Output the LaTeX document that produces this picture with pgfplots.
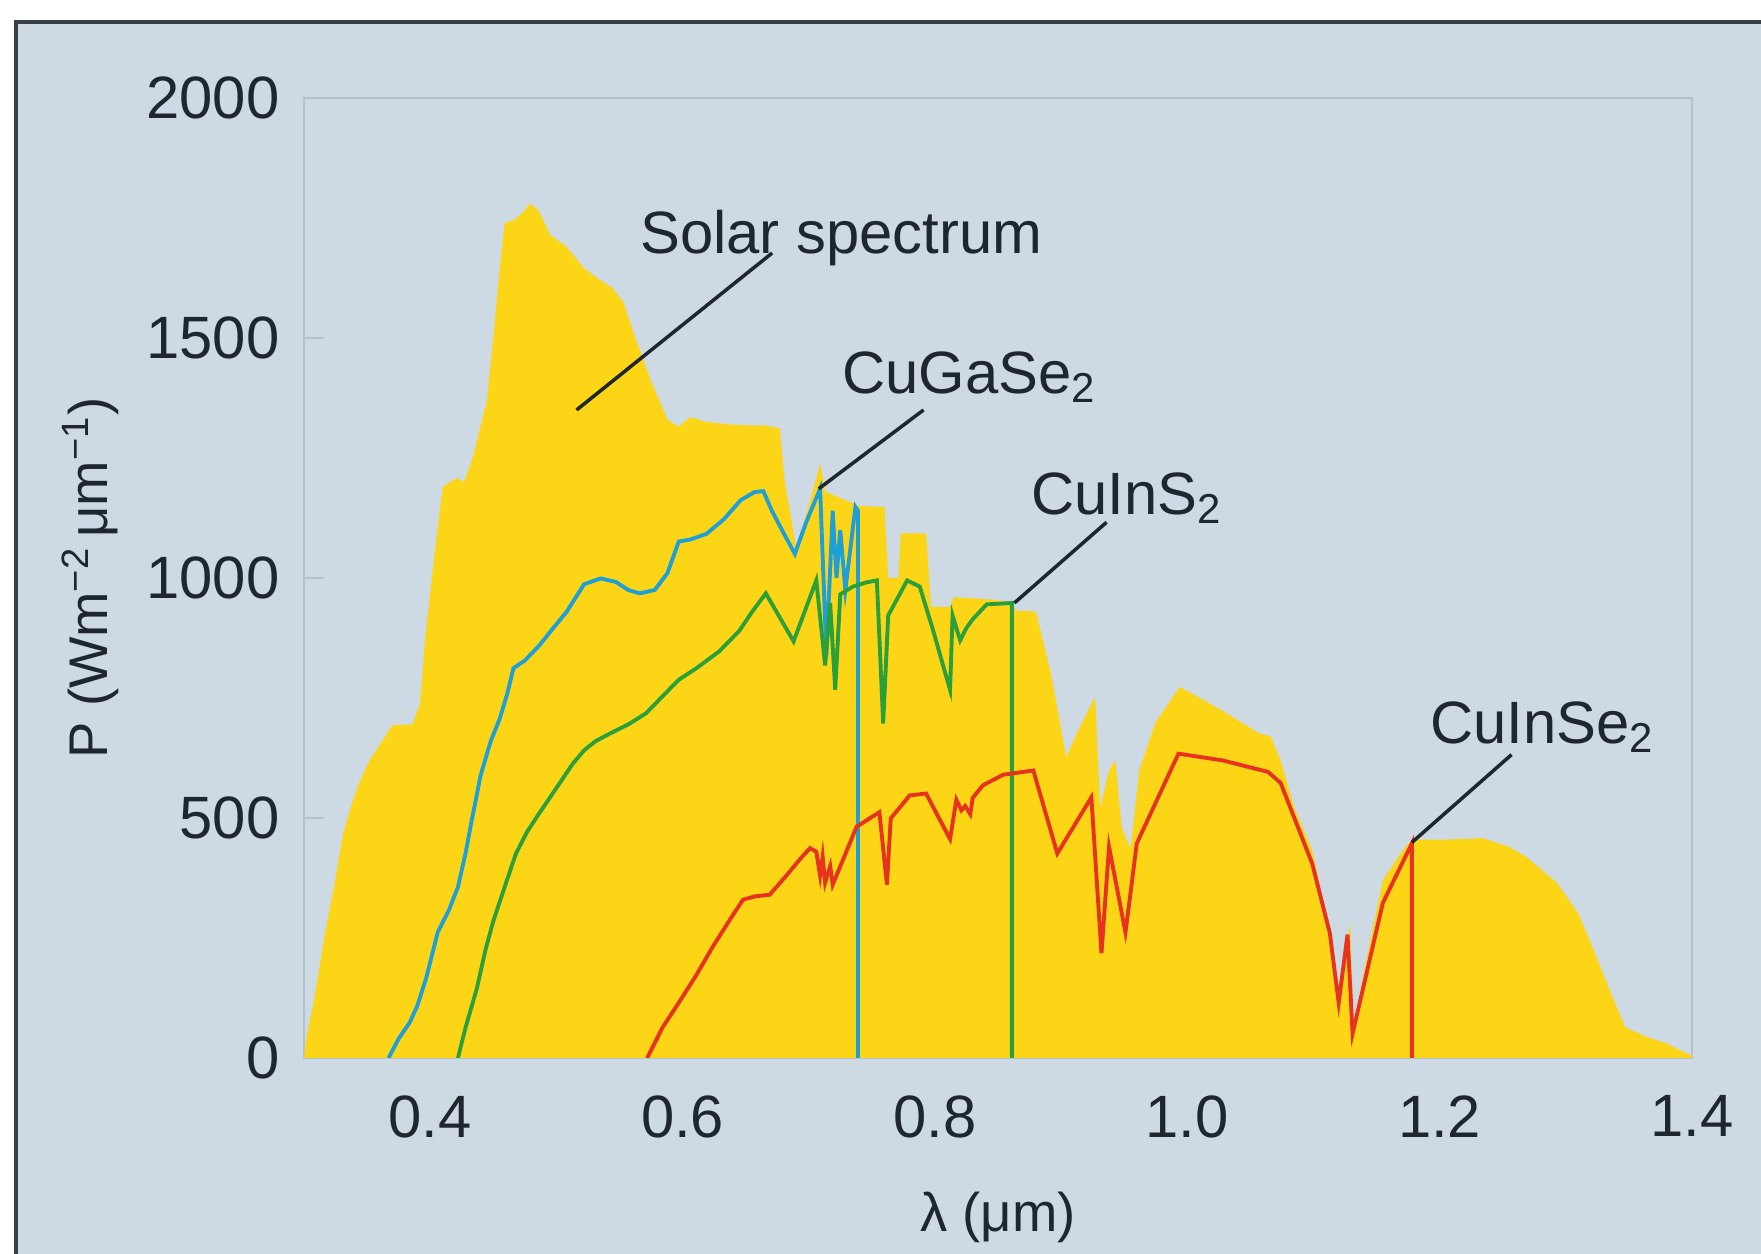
\documentclass[border=0pt]{standalone}
\usepackage{fontspec}
\setmainfont{Liberation Sans}
\usepackage{pgfplots}
\pgfplotsset{compat=1.18}
\definecolor{bgcol}{HTML}{CDD9E3}
\definecolor{sunyellow}{HTML}{FCD616}
\definecolor{gablue}{HTML}{1EA0D6}
\definecolor{sgreen}{HTML}{2A9F3A}
\definecolor{sered}{HTML}{E6321E}
\definecolor{txtcol}{HTML}{1E262E}
\definecolor{axcol}{HTML}{B4C2CC}
\definecolor{framecol}{HTML}{3A3F44}
\begin{document}
\begin{tikzpicture}
\path[use as bounding box] (-3.04,-1.96) rectangle (14.57,10.58);
\fill[white] (-3.04,-1.96) rectangle (14.57,10.58);
\fill[bgcol] (-2.88,-1.96) rectangle (14.57,10.36);
\draw[line width=1.3pt, framecol] (-2.88,-1.96) -- (-2.88,10.36) -- (14.57,10.36);
\begin{axis}[
  at={(0,0)}, anchor=south west, scale only axis,
  width=13.88cm, height=9.60cm,
  xmin=0.3, xmax=1.4, ymin=0, ymax=2000,
  xtick={0.4,0.6,0.8,1.0,1.2,1.4},
  ytick={0,500,1000,1500,2000},
  tick pos=left,
  axis line style={axcol, line width=0.6pt},
  tick style={axcol, line width=0.6pt},
  tick align=inside, major tick length=0.2cm,
  /pgf/number format/assume math mode=true,
  xticklabel style={/pgf/number format/fixed, /pgf/number format/fixed zerofill, /pgf/number format/precision=1, anchor=north, yshift=-0.37cm},
  yticklabel style={/pgf/number format/1000 sep={}, anchor=east, xshift=-0.24cm},
  every tick label/.append style={font=\fontsize{17}{20}\selectfont, text=txtcol, inner sep=0pt},
  xlabel={λ (μm)},
  ylabel={P (Wm\textsuperscript{−2}\,μm\textsuperscript{−1})},
  every axis x label/.style={at={(axis description cs:0.5,-0.181)}, anchor=base, font=\fontsize{15.5}{18}\selectfont, text=txtcol},
  every axis y label/.style={at={(axis description cs:-0.1419,0.5)}, rotate=90, anchor=base, font=\fontsize{15.5}{18}\selectfont, text=txtcol},
]
\addplot[draw=none, fill=sunyellow] coordinates {
(0.300,0) (0.302,44) (0.308,120) (0.316,250) (0.324,360) (0.331,467) (0.338,530) (0.344,575) (0.352,620) (0.362,660) (0.370,693) (0.386,695) (0.392,738) (0.396,873) (0.403,1040) (0.410,1190) (0.421,1208) (0.427,1200) (0.434,1253) (0.445,1370) (0.450,1500) (0.455,1640) (0.459,1740) (0.466,1745) (0.473,1760) (0.479,1780) (0.486,1765) (0.495,1715) (0.508,1690) (0.522,1645) (0.535,1620) (0.544,1605) (0.553,1575) (0.562,1505) (0.575,1410) (0.588,1330) (0.597,1315) (0.606,1335) (0.619,1325) (0.637,1320) (0.651,1318) (0.664,1318) (0.677,1312) (0.681,1200) (0.690,1064) (0.700,1150) (0.709,1239) (0.713,1180) (0.740,1150) (0.760,1148) (0.763,1000) (0.771,1000) (0.773,1093) (0.793,1093) (0.797,940) (0.812,940) (0.815,960) (0.845,955) (0.860,950) (0.864,932) (0.880,930) (0.883,898) (0.892,800) (0.904,627) (0.915,690) (0.927,753) (0.931,520) (0.938,600) (0.943,620) (0.948,480) (0.955,435) (0.962,600) (0.975,700) (0.994,773) (1.010,750) (1.030,720) (1.057,676) (1.066,670) (1.074,620) (1.085,520) (1.099,433) (1.110,300) (1.120,150) (1.125,220) (1.129,280) (1.132,70) (1.140,180) (1.155,370) (1.170,430) (1.178,455) (1.206,455) (1.234,458) (1.255,440) (1.269,418) (1.293,365) (1.310,300) (1.322,225) (1.335,140) (1.347,64) (1.364,44) (1.380,30) (1.396,9) (1.400,5)
} \closedcycle;
\addplot[gablue, line width=1.1pt] coordinates {
(0.367,0) (0.375,40) (0.384,75) (0.390,110) (0.397,168) (0.406,262) (0.415,309) (0.422,356) (0.428,426) (0.433,496) (0.440,589) (0.448,660) (0.455,706) (0.461,758) (0.466,812) (0.475,828) (0.486,858) (0.497,894) (0.508,929) (0.522,987) (0.535,999) (0.547,992) (0.557,975) (0.566,968) (0.578,975) (0.588,1010) (0.597,1076) (0.606,1080) (0.619,1092) (0.633,1123) (0.646,1162) (0.657,1179) (0.664,1181) (0.671,1139) (0.678,1104) (0.689,1050) (0.698,1116) (0.709,1186) (0.714,840) (0.719,1140) (0.722,1000) (0.725,1100) (0.729,975) (0.737,1148) (0.739,1140) (0.739,0)
};
\addplot[sgreen, line width=1.1pt] coordinates {
(0.422,0) (0.428,63) (0.437,145) (0.444,227) (0.450,285) (0.459,356) (0.468,426) (0.477,472) (0.486,508) (0.495,543) (0.504,578) (0.513,613) (0.522,641) (0.531,660) (0.544,678) (0.557,695) (0.571,718) (0.584,753) (0.597,788) (0.611,812) (0.629,847) (0.645,890) (0.655,929) (0.666,968) (0.688,868) (0.706,995) (0.713,818) (0.717,948) (0.721,767) (0.725,966) (0.735,982) (0.746,991) (0.754,995) (0.759,697) (0.763,922) (0.778,995) (0.788,982) (0.798,896) (0.812,767) (0.814,922) (0.820,870) (0.825,896) (0.830,914) (0.841,945) (0.861,948) (0.861,0)
};
\addplot[sered, line width=1.1pt] coordinates {
(0.572,0) (0.584,63) (0.597,115) (0.611,173) (0.624,232) (0.638,290) (0.648,330) (0.658,337) (0.669,340) (0.682,379) (0.693,414) (0.701,437) (0.706,430) (0.709,380) (0.711,420) (0.713,365) (0.717,400) (0.719,361) (0.738,482) (0.756,512) (0.762,361) (0.765,499) (0.780,547) (0.793,551) (0.812,456) (0.817,538) (0.821,516) (0.824,525) (0.828,508) (0.830,542) (0.838,568) (0.854,590) (0.878,599) (0.897,426) (0.924,543) (0.932,218) (0.938,440) (0.951,262) (0.954,323) (0.960,447) (0.993,634) (1.028,620) (1.064,596) (1.074,573) (1.099,405) (1.113,260) (1.120,115) (1.127,257) (1.131,51) (1.155,323) (1.178,447) (1.178,0)
};
\draw[txtcol, line width=1pt] (axis cs:0.671,1677) -- (axis cs:0.516,1350);
\draw[txtcol, line width=1pt] (axis cs:0.791,1350) -- (axis cs:0.708,1186);
\draw[txtcol, line width=1pt] (axis cs:0.936,1116) -- (axis cs:0.863,948);
\draw[txtcol, line width=1pt] (axis cs:1.257,632) -- (axis cs:1.178,449);
\node[anchor=base west, inner sep=0pt, text=txtcol, font=\fontsize{17}{20}\selectfont] at (axis cs:0.566,1675) {Solar spectrum};
\node[anchor=base west, inner sep=0pt, text=txtcol, font=\fontsize{17}{20}\selectfont] at (axis cs:0.726,1385) {CuGaSe\textsubscript{2}};
\node[anchor=base west, inner sep=0pt, text=txtcol, font=\fontsize{17}{20}\selectfont] at (axis cs:0.876,1132) {CuInS\textsubscript{2}};
\node[anchor=base west, inner sep=0pt, text=txtcol, font=\fontsize{17}{20}\selectfont] at (axis cs:1.192,655) {CuInSe\textsubscript{2}};
\end{axis}
\end{tikzpicture}
\end{document}
